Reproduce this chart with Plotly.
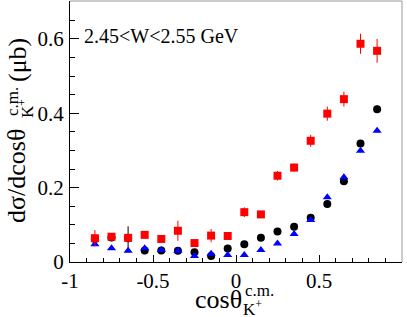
import plotly.graph_objects as go

cos_theta = [-0.85, -0.75, -0.65, -0.55, -0.45, -0.35, -0.25, -0.15, -0.05,
             0.05, 0.15, 0.25, 0.35, 0.45, 0.55, 0.65, 0.75, 0.85]

red_vals = [0.064, 0.068, 0.065, 0.073, 0.062, 0.084, 0.051, 0.071, 0.070,
            0.134, 0.128, 0.232, 0.254, 0.326, 0.399, 0.438, 0.587, 0.568]
red_err = [0.022, 0.008, 0.008, 0.006, 0.006, 0.027, 0.008, 0.018, 0.006,
           0.013, 0.008, 0.013, 0.011, 0.016, 0.019, 0.020, 0.027, 0.032]

black_vals = [0.062, 0.066, 0.064, 0.031, 0.031, 0.030, 0.026, 0.016, 0.036,
              0.048, 0.065, 0.082, 0.095, 0.119, 0.156, 0.217, 0.319, 0.411]
black_err = [0.010, 0.010, 0.032, 0.006, 0.005, 0.005, 0.005, 0.005, 0.005,
             0.005, 0.005, 0.005, 0.006, 0.006, 0.006, 0.007, 0.008, 0.010]

blue_vals = [0.048, 0.037, 0.030, 0.037, 0.032, 0.030, 0.016, 0.022, 0.019,
             0.019, 0.032, 0.050, 0.075, 0.113, 0.174, 0.228, 0.299, 0.353]
blue_err = [0.004] * 18

x_tickvals = [-1, -0.5, 0, 0.5, 1]
x_ticktext = ["-1", "-0.5", "0", "0.5", "1"]
y_tickvals = [0, 0.2, 0.4, 0.6]
y_ticktext = ["0", "0.2", "0.4", "0.6"]

FONT = "Liberation Serif"
W, H = 407, 317
L, R, T, B = 70, 5, 1, 55
PW, PH = W - L - R, H - T - B


def px(xp):
    return (xp - L) / PW


def py(yp):
    return (H - B - yp) / PH


fig = go.Figure()
fig.add_trace(go.Scatter(
    x=cos_theta, y=black_vals, mode="markers",
    error_y=dict(type="data", array=black_err, color="black", thickness=1, width=0),
    marker=dict(symbol="circle", size=8, color="black", line=dict(width=0)),
))
fig.add_trace(go.Scatter(
    x=cos_theta, y=blue_vals, mode="markers",
    error_y=dict(type="data", array=blue_err, color="blue", thickness=1, width=0),
    marker=dict(symbol="triangle-up", size=8, color="blue", line=dict(width=0)),
))
fig.add_trace(go.Scatter(
    x=cos_theta, y=red_vals, mode="markers",
    error_y=dict(type="data", array=red_err, color="red", thickness=1, width=0),
    marker=dict(symbol="square", size=8, color="red", line=dict(width=0)),
))

fig.update_layout(
    width=W, height=H,
    margin=dict(l=L, r=R, t=T, b=B, pad=0),
    paper_bgcolor="white", plot_bgcolor="white",
    showlegend=False,
    font=dict(family=FONT, color="black", size=21),
    xaxis=dict(
        range=[-1, 1], tickvals=x_tickvals, ticktext=x_ticktext,
        ticks="inside", ticklen=7, tickwidth=1, tickcolor="black",
        minor=dict(dtick=0.1, ticks="inside", ticklen=4, tickcolor="black"),
        showline=True, linecolor="black", linewidth=1,
        showgrid=False, zeroline=False,
        tickfont=dict(family=FONT, size=21),
    ),
    yaxis=dict(
        range=[0, 0.702], tickvals=y_tickvals, ticktext=y_ticktext,
        ticks="inside", ticklen=9, tickwidth=1, tickcolor="black",
        minor=dict(dtick=0.05, tick0=0, ticks="inside", ticklen=5, tickcolor="black"),
        showline=True, linecolor="black", linewidth=1,
        showgrid=False, zeroline=False,
        tickfont=dict(family=FONT, size=21),
        ticklabelstandoff=1,
    ),
)

# frame top/right
fig.add_shape(type="line", xref="paper", yref="paper", x0=0, x1=1, y0=1, y1=1,
              line=dict(color="#999999", width=1))
fig.add_shape(type="line", xref="paper", yref="paper", x0=1, x1=1, y0=0, y1=1,
              line=dict(color="#999999", width=1))

ann = []
ann.append(dict(text="2.45&lt;W&lt;2.55 GeV", x=px(82), y=py(36), xref="paper", yref="paper",
                xanchor="left", yanchor="middle", showarrow=False,
                font=dict(family=FONT, size=20)))
# y title pieces (rotated)
ann.append(dict(text="dσ/dcosθ", x=px(16), y=py(176), xref="paper", yref="paper",
                xanchor="center", yanchor="middle", textangle=-90, showarrow=False,
                font=dict(family=FONT, size=26)))
ann.append(dict(text="c.m.", x=px(12), y=py(102), xref="paper", yref="paper",
                xanchor="center", yanchor="middle", textangle=-90, showarrow=False,
                font=dict(family=FONT, size=17)))
ann.append(dict(text="K<sup>+</sup>", x=px(26), y=py(109), xref="paper", yref="paper",
                xanchor="center", yanchor="middle", textangle=-90, showarrow=False,
                font=dict(family=FONT, size=17)))
ann.append(dict(text="(μb)", x=px(17), y=py(60), xref="paper", yref="paper",
                xanchor="center", yanchor="middle", textangle=-90, showarrow=False,
                font=dict(family=FONT, size=26)))
# x title pieces
ann.append(dict(text="cosθ", x=px(218), y=py(299), xref="paper", yref="paper",
                xanchor="center", yanchor="middle", showarrow=False,
                font=dict(family=FONT, size=26)))
ann.append(dict(text="c.m.", x=px(259), y=py(290), xref="paper", yref="paper",
                xanchor="center", yanchor="middle", showarrow=False,
                font=dict(family=FONT, size=17)))
ann.append(dict(text="K<sup>+</sup>", x=px(252), y=py(308), xref="paper", yref="paper",
                xanchor="center", yanchor="middle", showarrow=False,
                font=dict(family=FONT, size=17)))
fig.update_layout(annotations=ann)

fig.write_html(
    "out.html",
    config={"displayModeBar": False},
    post_script="document.body.style.margin='0';document.body.style.overflow='hidden';",
)
